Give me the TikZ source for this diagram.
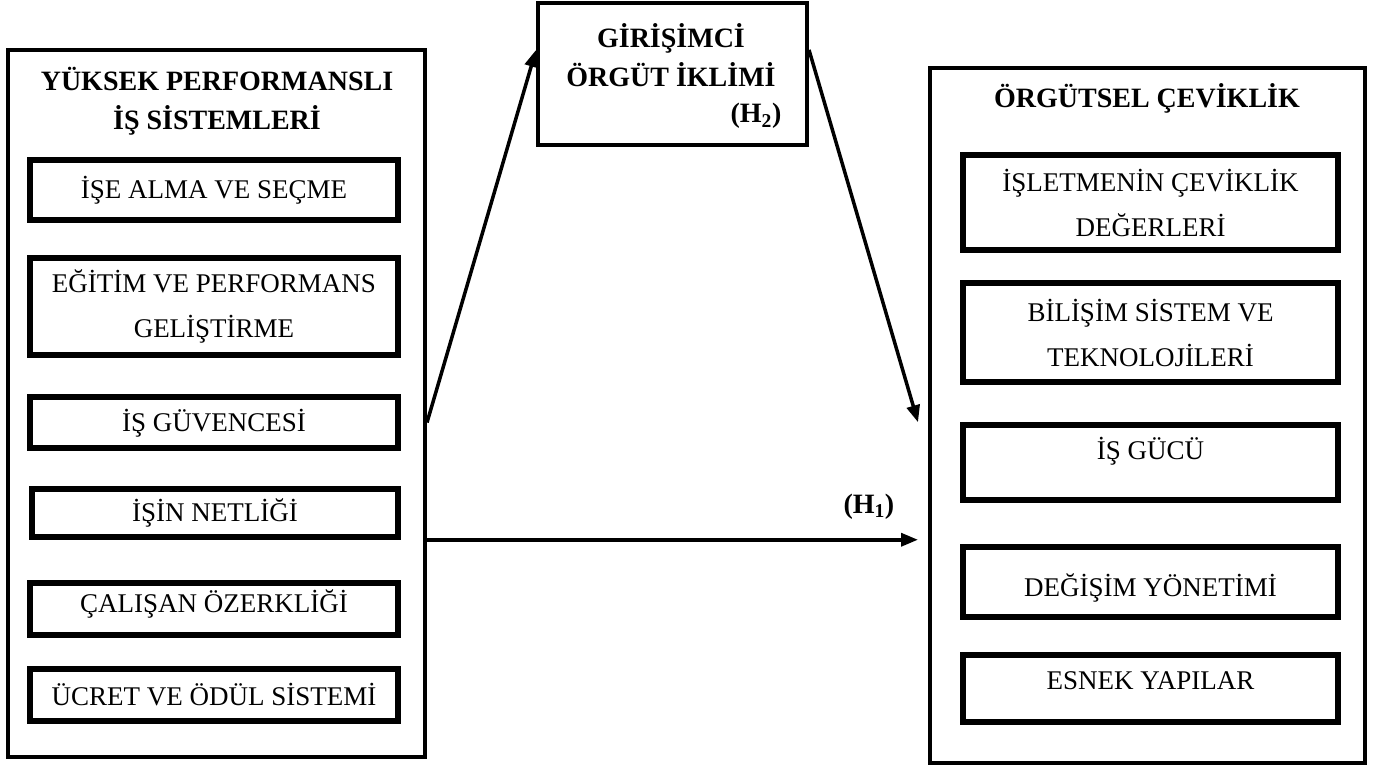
\documentclass[tikz,border=0pt]{standalone}
\usepackage{fontspec}
\setmainfont{Liberation Serif}
\usetikzlibrary{arrows.meta}

\begin{document}
\begin{tikzpicture}[
  x=1pt, y=-1pt,
  frame/.style={rectangle, draw, line width=4pt, inner sep=0pt},
  item/.style={rectangle, draw, line width=5.5pt, inner sep=0pt, minimum width=368pt,
               align=center, font=\fontsize{27}{45}\selectfont},
  ritem/.style={item, minimum width=375pt},
  oneline/.style={text height=23pt, text depth=6pt},
  head/.style={align=center, inner sep=2pt, font=\fontsize{28}{39}\selectfont\bfseries},
  link/.style={-{Triangle[length=17pt,width=13pt]}, line width=3.5pt}
]
  \useasboundingbox (0,0) rectangle (1379,767);

  % Outer frames
  \node[frame, minimum width=417pt, minimum height=707pt] (hpws) at (216.5,403.5) {};
  \node[frame, minimum width=269pt, minimum height=142pt] (gio)  at (672.5,74)    {};
  \node[frame, minimum width=435pt, minimum height=695pt] (oc)   at (1147.5,415.5) {};

  % Titles
  \node[head] (hpwstitle) at (217,101) {YÜKSEK PERFORMANSLI\\İŞ SİSTEMLERİ};
  \node[head] (giotitle)  at (671,55)  {GİRİŞİMCİ\\ÖRGÜT İKLİMİ};
  \node[head] (htwo)      at (756,116) {(H\textsubscript{2})};
  \node[head] (octitle)   at (1147,98) {ÖRGÜTSEL ÇEVİKLİK};

  % Left dimensions
  \node[item, oneline, minimum height=60pt]  (ise) at (214,190)   {İŞE ALMA VE SEÇME};
  \node[item, minimum height=97pt]           (egt) at (214,306.5) {EĞİTİM VE PERFORMANS\\GELİŞTİRME};
  \node[item, oneline, minimum height=51pt]  (isg) at (214,422.5) {İŞ GÜVENCESİ};
  \node[item, oneline, minimum height=48pt, minimum width=366pt] (net) at (215,513) {İŞİN NETLİĞİ};
  \node[item, oneline, text depth=17pt, minimum height=52pt] (cal) at (214,609) {ÇALIŞAN ÖZERKLİĞİ};
  \node[item, oneline, text height=27pt, minimum height=52pt] (ucr) at (214,695) {ÜCRET VE ÖDÜL SİSTEMİ};

  % Right dimensions
  \node[ritem, minimum height=95pt]  (cdv)  at (1150.5,202.5) {İŞLETMENİN ÇEVİKLİK\\DEĞERLERİ};
  \node[ritem, minimum height=99pt]  (bil)  at (1150.5,332.5) {BİLİŞİM SİSTEM VE\\TEKNOLOJİLERİ};
  \node[ritem, oneline, text depth=30pt, minimum height=75pt] (isgu) at (1150.5,462.5) {İŞ GÜCÜ};
  \node[ritem, oneline, text height=35pt, minimum height=70pt] (dy)   at (1150.5,582)   {DEĞİŞİM YÖNETİMİ};
  \node[ritem, oneline, text depth=22pt, minimum height=67pt] (esn)  at (1150.5,688.5) {ESNEK YAPILAR};

  % Hypotheses
  \draw[link] (hpws.east |- isg.center) -- (gio.170);
  \draw[link] (gio.10) -- ([xshift=-10pt]oc.west |- isgu.north);
  \draw[link] (hpws.east |- net.south) -- ([xshift=-10pt]oc.west |- net.south)
    node[head, pos=0.9, above=17pt] (hone) {(H\textsubscript{1})};
\end{tikzpicture}
\end{document}
